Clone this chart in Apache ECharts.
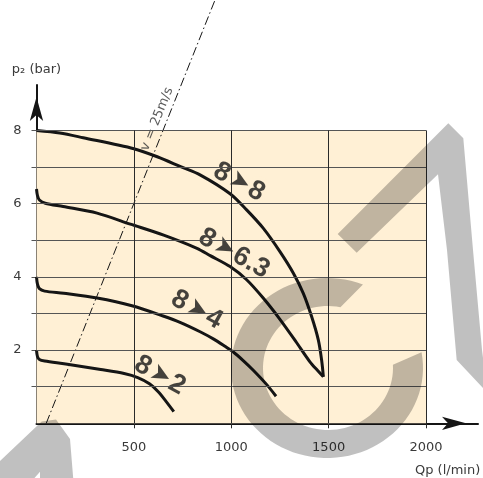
<!DOCTYPE html>
<html><head><meta charset="utf-8">
<script src="https://cdn.jsdelivr.net/npm/echarts@6/dist/echarts.min.js"></script>
<style>html,body{margin:0;padding:0;background:#fff}#c{width:483px;height:478px}</style>
</head><body><div id="c"></div>
<script>
// ---- data ----
const xTickValues = [500, 1000, 1500, 2000];
const yTickValues = [1, 2, 3, 4, 5, 6, 7, 8];
const yLabelValues = [2, 4, 6, 8];
const curve8to8 = [[0,8.0],[120,7.93],[240,7.8],[500,7.5],[620,7.28],[740,7.01],[842,6.78],[994,6.27],[1079,5.83],[1164,5.33],[1250,4.69],[1319,4.10],[1370,3.55],[1413,2.91],[1447,2.28],[1464,1.73],[1473,1.27]];
const curve8to63 = [[0,6.4],[5,6.22],[15,6.1],[45,6.01],[137,5.92],[311,5.74],[482,5.44],[653,5.14],[824,4.78],[892,4.58],[994,4.28],[1079,3.92],[1164,3.42],[1250,2.84],[1336,2.2],[1404,1.68],[1447,1.42],[1473,1.27]];
const curve8to4 = [[0,4.0],[5,3.8],[15,3.68],[42,3.61],[140,3.55],[311,3.42],[490,3.21],[650,2.93],[740,2.75],[840,2.5],[910,2.3],[960,2.13],[1012,1.94],[1060,1.72],[1113,1.45],[1180,1.07],[1230,0.74]];
const curve8to2 = [[0,2.0],[5,1.82],[15,1.74],[42,1.7],[150,1.62],[330,1.47],[450,1.36],[520,1.25],[580,1.08],[625,0.86],[665,0.6],[705,0.32]];
const velocityLine = [[50,0],[921,11.62]];
const velocityText = 'v = 25m/s';
const velocityTextAt = [619, 8.31];
const curveLabels = ['8➤8', '8➤6.3', '8➤4', '8➤2'];
const curveLabelAt = [[1040,6.59],[1014,4.64],[823,3.10],[634,1.31]];
const xMax = 2000, yMax = 8;

// ---- chart ----
const BEIGE = '#FFF0D5';
const INK = '#151515';
const TEXT = '#3a3a3a';
const FONT = 'DejaVu Sans';
const chart = echarts.init(document.getElementById('c'), null, {renderer:'canvas'});

const gridLines = [];
yTickValues.forEach(v => gridLines.push([{coord:[0,v], lineStyle:{color:'#555555'}},{coord:[xMax,v]}]));
xTickValues.forEach(v => gridLines.push([{coord:[v,0], lineStyle:{color:'#2a2a2a'}},{coord:[v,yMax]}]));

function curveSeries(name, data){
  return {name, type:'line', data, showSymbol:false, smooth:0.3,
    lineStyle:{color:INK, width:3}, z:3, silent:true};
}
function richFor(fill, border){
  const b = border ? {textBorderColor:BEIGE, textBorderWidth:8} : {textBorderColor:'transparent', textBorderWidth:0};
  return {
    d:Object.assign({fontSize:27, fontWeight:'bold', fontFamily:'Liberation Sans', color:fill}, b),
    a:Object.assign({fontSize:25, fontFamily:'DejaVu Sans', color:fill, padding:[0,1,0,2]}, b)
  };
}
function labelSeries(name, fill, border, z){
  return {name, type:'scatter', symbolSize:0, z, silent:true,
    itemStyle:{color:fill},
    data: curveLabels.map((t,i)=>({value:curveLabelAt[i], name:t})),
    label:{show:true, position:'inside', rotate:-29, color:fill, fontWeight:'bold',
      textBorderColor: border ? BEIGE : 'transparent', textBorderWidth: border ? 8 : 0,
      formatter: p => { const s=p.name.split('➤'); return '{d|'+s[0]+'}{a|➤}{d|'+s[1]+'}'; },
      rich:richFor(fill, border)}
  };
}

// watermark shapes (decoration)
function ellipseArc(cx,cy,rx,ry,t0,t1,n){
  const pts=[];
  for(let i=0;i<=n;i++){const t=(t0+(t1-t0)*i/n)*Math.PI/180; pts.push([cx+rx*Math.cos(t), cy+ry*Math.sin(t)]);}
  return pts;
}
const cShape = ellipseArc(327,368,96,90,-68,-370,80).concat(ellipseArc(328,368,65,62,-363,-79,80));
const wmStyle = {fill:'#c0c0c0', blend:'multiply'};
const tickFont = {fontSize:13, color:TEXT, fontFamily:FONT};

const option = {
  backgroundColor:'#ffffff',
  animation:false,
  grid:{left:36.5, right:5, top:85, bottom:54.7, containLabel:false, outerBoundsMode:'none'},
  xAxis:{type:'value', min:0, max:2267,
    splitLine:{show:false},
    axisLine:{show:true, lineStyle:{color:INK, width:2}, symbol:['none','arrow'], symbolSize:[10,24], symbolOffset:[0,-12]},
    axisTick:{show:true, customValues:xTickValues, length:5, lineStyle:{color:'#2a2a2a', width:1}},
    axisLabel:Object.assign({customValues:xTickValues, margin:18, formatter:v=>String(v)}, tickFont)
  },
  yAxis:{type:'value', min:0, max:9.24,
    name:'p₂ (bar)', nameLocation:'end', nameGap:9,
    nameTextStyle:{fontSize:13, color:TEXT, fontFamily:FONT},
    splitLine:{show:false},
    axisLine:{show:true, lineStyle:{color:INK, width:2}, symbol:['none','arrow'], symbolSize:[10,24], symbolOffset:[0,-12]},
    axisTick:{show:true, customValues:yTickValues, length:5, lineStyle:{color:'#555555', width:1}},
    axisLabel:Object.assign({customValues:yLabelValues, margin:15, formatter:v=>String(v)}, tickFont)
  },
  series:[
    {name:'frame', type:'line', data:[], z:1, silent:true,
      markArea:{silent:true, itemStyle:{color:BEIGE}, data:[[{coord:[0,0]},{coord:[xMax,yMax]}]]},
      markLine:{silent:true, symbol:'none', label:{show:false}, lineStyle:{type:'solid', width:1, color:'#555555'}, data:gridLines}
    },
    {name:'velocity', type:'line', data:velocityLine, showSymbol:false, clip:false, z:2, silent:true,
      lineStyle:{color:INK, width:1, type:[9,3,1.5,3]}},
    {name:'velocityLabel', type:'scatter', symbolSize:0, z:2, silent:true, itemStyle:{color:'#333'},
      data:[{value:velocityTextAt, name:velocityText}],
      label:{show:true, position:'inside', formatter:'{b}', rotate:68, fontSize:13, color:'#333',
        textBorderWidth:0, fontFamily:FONT}},
    labelSeries('labelKnockout', BEIGE, true, 2),
    curveSeries('8➤8', curve8to8),
    curveSeries('8➤6.3', curve8to63),
    curveSeries('8➤4', curve8to4),
    curveSeries('8➤2', curve8to2),
    labelSeries('labels', INK, false, 4)
  ],
  graphic:[
    {type:'text', x:415, y:464, z:5, style:{text:'Qp (l/min)', fontSize:13, fontFamily:FONT, fill:TEXT, verticalAlign:'top'}},
    {type:'polygon', z:100, silent:true, shape:{points:[[-2,463],[41.7,421.5],[56,419.5],[70,439],[73.5,482],[40,482],[40,471.7],[31,482],[-2,482]]}, style:wmStyle},
    {type:'polygon', z:100, silent:true, shape:{points:cShape}, style:wmStyle},
    {type:'polygon', z:100, silent:true, shape:{points:[[337.7,234],[448.3,123.3],[463.3,138.3],[473,250],[482,350],[486,382],[484,389],[456.7,360],[447,250],[438,174.3],[356.7,252.7]]}, style:wmStyle}
  ]
};
chart.setOption(option);
</script></body></html>
